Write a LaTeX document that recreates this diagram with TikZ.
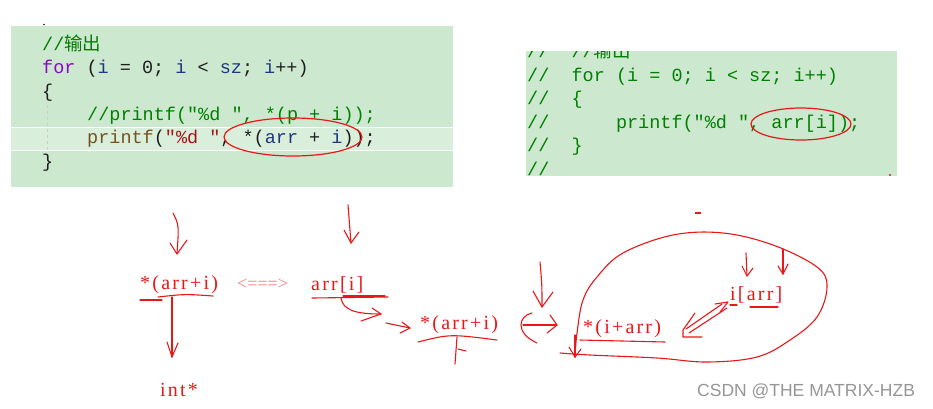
\documentclass[tikz,border=0pt]{standalone}
\usepackage{fontspec}
\setmainfont{Liberation Serif}
\newfontfamily\codefont{Liberation Mono}
\newfontfamily\cjk{Noto Sans CJK SC}
\newfontfamily\wmfont{Liberation Sans}
\newfontfamily\notefont{Liberation Serif}[LetterSpace=11]
\newfontfamily\notefontplain{Liberation Serif}
\definecolor{codebg}{RGB}{204,232,207}
\definecolor{bandbg}{RGB}{218,238,220}
\definecolor{cgreen}{RGB}{0,128,0}
\definecolor{ckw}{RGB}{143,8,196}
\definecolor{cid}{RGB}{31,55,127}
\definecolor{cfn}{RGB}{116,83,31}
\definecolor{cstr}{RGB}{163,21,21}
\definecolor{ctext}{RGB}{30,30,30}
\definecolor{penred}{RGB}{232,24,24}
\definecolor{pinkred}{RGB}{240,130,130}
\definecolor{wmgray}{RGB}{150,150,150}
\tikzset{
  codeline/.style={anchor=base west, inner sep=0pt, text=ctext, font=\codefont\fontsize{18.5}{22}\selectfont},
  rcodeline/.style={codeline, text=cgreen},
  note/.style={anchor=base west, inner sep=0pt, text=penred, font=\notefont\fontsize{20}{24}\selectfont},
  pen/.style={draw=penred, line width=1.1pt, line cap=round, line join=round},
  circ/.style={draw=penred, line width=1.2pt},
}
\begin{document}
\begin{tikzpicture}[x=1pt,y=-1pt]
\useasboundingbox (0,0) rectangle (933,408);
\fill[white] (0,0) rectangle (933,408);
% ---- left code box
\fill[ctext] (44,24.5) circle (0.9);
\fill[codebg] (11,26) rectangle (453,187);
\fill[bandbg] (11,128) rectangle (453,150);
\draw[white,line width=1.2pt] (11,127.5) -- (453,127.5) (11,150.5) -- (453,150.5);
\draw[gray!40,dashed,line width=0.6pt] (47,105) -- (47,152);
\node[codeline] (l1) at (42,50) {\textcolor{cgreen}{//{\cjk 输出}}};
\node[codeline] (l2) at (42,73) {\textcolor{ckw}{for}~(\textcolor{cid}{i}~=~0;~\textcolor{cid}{i}~<~\textcolor{cid}{sz};~\textcolor{cid}{i}++)};
\node[codeline] (l3) at (42,97) {\{};
\node[codeline] (l4) at (87,120) {\textcolor{cgreen}{//printf("\%d~",~*(p~+~i));}};
\node[codeline] (l5) at (87,143) {\textcolor{cfn}{printf}(\textcolor{cstr}{"\%d~"},~*(\textcolor{cid}{arr}~+~\textcolor{cid}{i}));};
\node[codeline] (l6) at (42,167) {\}};
\draw[circ] (293,137) ellipse [x radius=69, y radius=19];
% ---- right code box
\begin{scope}
\clip (526,51) rectangle (897,176);
\fill[codebg] (526,51) rectangle (897,176);
\node[rcodeline] (r1) at (527,57) {//~~//{\cjk 输出}};
\node[rcodeline] (r2) at (527,81) {//~~for~(i~=~0;~i~<~sz;~i++)};
\node[rcodeline] (r3) at (527,104.5) {//~~\{};
\node[rcodeline] (r4) at (527,128) {//~~~~~~printf("\%d~",~arr[i]);};
\node[rcodeline] (r5) at (527,151.5) {//~~\}};
\node[rcodeline] (r6) at (527,175) {//};
\end{scope}
\draw[circ] (801,124) ellipse [x radius=50, y radius=16];
\fill[penred] (890,175) circle (1.2);
% ---- annotations text
\node[note] (n1) at (140,289) {*(arr+i)};
\node[anchor=base west, inner sep=0pt, text=pinkred, font=\notefontplain\fontsize{18}{22}\selectfont] (eq) at (237,289) {<===>};
\node[note] (n2) at (311,290) {arr[i]};
\node[note] (n3) at (160,396) {int*};
\node[note] (n4) at (420,329) {*(arr+i)};
\node[note] (n5) at (583,333) {*(i+arr)};
\node[note] (n6) at (730,300) {i[arr]};
\node[anchor=base west, inner sep=0pt, text=wmgray, font=\wmfont\fontsize{17.5}{20}\selectfont] (wm) at (697,396) {CSDN @THE MATRIX-HZB};
% ---- hand strokes
\draw[pen] (173,213) .. controls (179,225) .. (177,253);
\draw[pen] (170,243) -- (177,254) -- (187,240);
\draw[pen] (348,205) -- (351,243);
\draw[pen] (344,230) -- (351,243) -- (359,232);
\draw[pen] (140,300) -- (162,300);
\draw[pen] (158,297) .. controls (185,294) .. (213,296);
\draw[pen] (172,297) -- (172,357);
\draw[pen] (167,342) -- (172,357) -- (178,343);
\draw[pen] (312,298) -- (388,297);
\draw[pen] (343,296) -- (385,296);
\draw[pen] (341,298) .. controls (343,310) and (355,314) .. (381,314);
\draw[pen] (372,308) -- (381,314) -- (361,321);
\draw[pen] (386,323) -- (410,328);
\draw[pen] (402,322) -- (410,328) -- (400,333);
\draw[pen] (418,342) .. controls (450,334) .. (497,340);
\draw[pen] (457,337) -- (455,364);
\draw[pen] (458,349) -- (466,351);
\draw[pen] (523,325) -- (557,325);
\draw[pen] (550,315) -- (557,325) -- (547,333);
\draw[pen] (532,313) .. controls (518,316) and (515,333) .. (537,343);
\draw[pen] (540,262) .. controls (542,285) .. (542,307);
\draw[pen] (533,291) -- (542,307) -- (553,292);
\draw[pen] (580,340) -- (665,342);
\draw[pen] (746,253) -- (747,276);
\draw[pen] (742,266) -- (747,276) -- (753,268);
\draw[pen] (783,249) -- (783,274);
\draw[pen] (778,266) -- (783,274) -- (788,264);
\draw[pen] (730,305) -- (737,305);
\draw[pen] (750,307) -- (778,307);
\draw[pen] (722,304) -- (686,329);
\draw[pen] (727,308) -- (689,333);
\draw[pen] (695,313) -- (683,330) -- (683,337) -- (702,337);
\draw[pen] (715,304) -- (728,302) -- (720,312);
\draw[pen] plot[smooth, tension=0.6] coordinates {(575,357) (577,333) (583,300) (597,277) (623,253) (673,235) (723,233) (773,245) (817,267) (827,287) (817,317) (790,340) (757,357) (707,362) (657,358) (590,355) (560,353)};
\draw[pen] (575,335) -- (575,357);
\draw[pen] (569,347) -- (575,357) -- (581,349);
\draw[penred, line width=2.2pt] (695,213) -- (701,213);
\end{tikzpicture}
\end{document}
